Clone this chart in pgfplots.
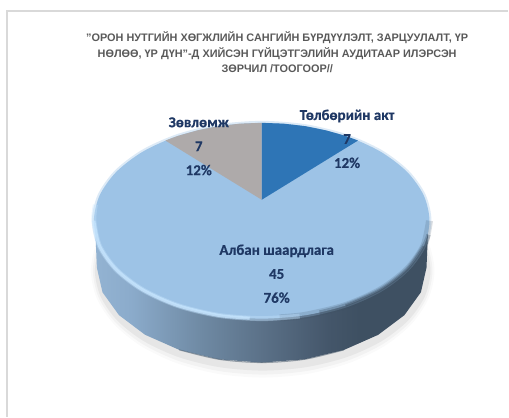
\documentclass[border=0pt]{standalone}
\usepackage{pgfplots}
\pgfplotsset{compat=1.18}
\usepackage{pgfplotstable}
\usepackage{fontspec}
\setmainfont{Liberation Sans}
\newfontfamily\lab{Carlito}[BoldFeatures={FakeBold=0.4}]

\definecolor{titlegray}{HTML}{595959}
\definecolor{labnavy}{HTML}{1F3864}
\definecolor{faceblue}{HTML}{9DC3E6}
\definecolor{actblue}{HTML}{2E75B6}
\definecolor{advgray}{HTML}{AEAAAA}
\definecolor{sideleft}{HTML}{93B3D2}
\definecolor{sideA}{HTML}{8BABCB}
\definecolor{sideB}{HTML}{6F8AA4}
\definecolor{sideC}{HTML}{5B7188}
\definecolor{sideD}{HTML}{44566A}
\definecolor{sideright}{HTML}{3E5062}
\definecolor{rimlight}{HTML}{C8E6FF}
\definecolor{framegray}{HTML}{D9D9D9}

\pgfdeclarehorizontalshading{sideshade}{100bp}{
    color(0bp)=(sideleft); color(25bp)=(sideleft); color(30.4bp)=(sideA); color(40.8bp)=(sideB);
    color(50bp)=(sideC); color(60bp)=(sideD); color(64.6bp)=(sideright); color(100bp)=(sideright)}

% unit ellipse, every 15 degrees
\pgfplotstableread{
x y
0 -1
0.2588 -0.9659
0.5 -0.866
0.7071 -0.7071
0.866 -0.5
0.9659 -0.2588
1 0
0.9659 0.2588
0.866 0.5
0.7071 0.7071
0.5 0.866
0.2588 0.9659
0 1
-0.2588 0.9659
-0.5 0.866
-0.7071 0.7071
-0.866 0.5
-0.9659 0.2588
-1 0
-0.9659 -0.2588
-0.866 -0.5
-0.7071 -0.7071
-0.5 -0.866
-0.2588 -0.9659
}\ring

\begin{document}
\begin{tikzpicture}
\begin{axis}[
    width=509pt, height=417pt, scale only axis,
    xmin=0, xmax=509, ymin=0, ymax=417,
    y dir=reverse,
    axis line style={draw=none}, ticks=none,
    clip=false,
    no marks,
]
% chart frame
\addplot[framegray, line width=1.2pt] coordinates {(7,417) (7,11) (509,11)};

% soft shadow under the disc
\addplot[smooth cycle, draw=none, fill=black, fill opacity=0.02] table[x expr=263+172*\thisrow{x}, y expr=271+107*\thisrow{y}] {\ring};
\addplot[smooth cycle, draw=none, fill=black, fill opacity=0.03] table[x expr=263+170*\thisrow{x}, y expr=271+104*\thisrow{y}] {\ring};
\addplot[smooth cycle, draw=none, fill=black, fill opacity=0.05] table[x expr=263+168*\thisrow{x}, y expr=271+100*\thisrow{y}] {\ring};

% side of the disc
\addplot[shade, shading=sideshade, draw=none] coordinates {
    (95,221) (97,268) (102.6,292.6) (119.1,315.5) (145.3,335.2) (179.5,350.3) (219.3,359.8)
    (262,363) (304.7,359.8) (344.5,350.3) (378.7,335.2) (404.9,315.5) (421.4,292.6) (427,268) (429,221)
} -- cycle;
% darker lower edge of the side
\addplot[smooth, sideright, line width=1pt, opacity=0.5] coordinates {(179.5,350.3) (219.3,359.8) (262,363) (304.7,359.8) (344.5,350.3)};

% soft step from the face down to the side
\addplot[smooth cycle, draw=faceblue, line width=4pt, opacity=0.35, fill=none] table[x expr=262+168*\thisrow{x}, y expr=221+98*\thisrow{y}] {\ring};

% top face and the two small slices
\addplot[smooth cycle, draw=none, fill=faceblue] table[x expr=262+168*\thisrow{x}, y expr=221+98*\thisrow{y}] {\ring};
\addplot[draw=none, fill=actblue] coordinates {
    (262,200) (262,123) (283.9,123.8) (305.5,126.3) (326.3,130.5) (346,136.1) (358.4,140.7)
} -- cycle;
\addplot[draw=none, fill=advgray] coordinates {
    (262,200) (262,123) (240.1,123.8) (218.5,126.3) (197.7,130.5) (178,136.1) (165.6,140.7)
} -- cycle;

% dark rim on the right of the face
\addplot[smooth, sideright, line width=7pt, opacity=0.18] coordinates {(430,221) (424.3,246.4) (407.5,270) (380.8,290.3) (346,305.9) (305.5,315.7) (280,318.2)};
\addplot[smooth, sideright, line width=4.5pt, opacity=0.30] coordinates {(429,235) (424.3,246.4) (407.5,270) (380.8,290.3) (346,305.9) (320,313)};
\addplot[smooth, sideright, line width=2.2pt, opacity=0.45] coordinates {(424.3,246.4) (407.5,270) (380.8,290.3) (346,305.9)};

% bright rim on the left of the face
\addplot[smooth, rimlight, line width=5pt, opacity=0.35] coordinates {(95.5,205) (94,221) (99.7,246.4) (116.5,270) (143.2,290.3) (178,305.9) (218.5,315.7) (262,319) (300,316.5)};
\addplot[smooth, rimlight, line width=3pt, opacity=0.75] coordinates {(94,221) (99.7,246.4) (116.5,270) (143.2,290.3) (178,305.9) (218.5,315.7) (250,318.5)};

% title
\node[align=center, font=\bfseries\fontsize{10.9}{15.5}\selectfont, text=titlegray] at (axis cs:277.5,52.5)
    {"ОРОН НУТГИЙН ХӨГЖЛИЙН САНГИЙН БҮРДҮҮЛЭЛТ, ЗАРЦУУЛАЛТ, ҮР\\ НӨЛӨӨ, ҮР ДҮН"-Д ХИЙСЭН ГҮЙЦЭТГЭЛИЙН АУДИТААР ИЛЭРСЭН\\ ЗӨРЧИЛ /ТООГООР//};

% slice labels
\node[align=center, text=labnavy, font=\lab\bfseries\fontsize{15}{24}\selectfont] at (axis cs:347.5,139) {Төлбөрийн акт\\7\\12\%};
\node[align=center, text=labnavy, font=\lab\bfseries\fontsize{15}{24}\selectfont] at (axis cs:199,146.5) {Зөвлөмж\\7\\12\%};
\node[align=center, text=labnavy, font=\lab\bfseries\fontsize{15}{24}\selectfont] at (axis cs:277,274) {Албан шаардлага\\45\\76\%};
\end{axis}
\end{tikzpicture}
\end{document}
